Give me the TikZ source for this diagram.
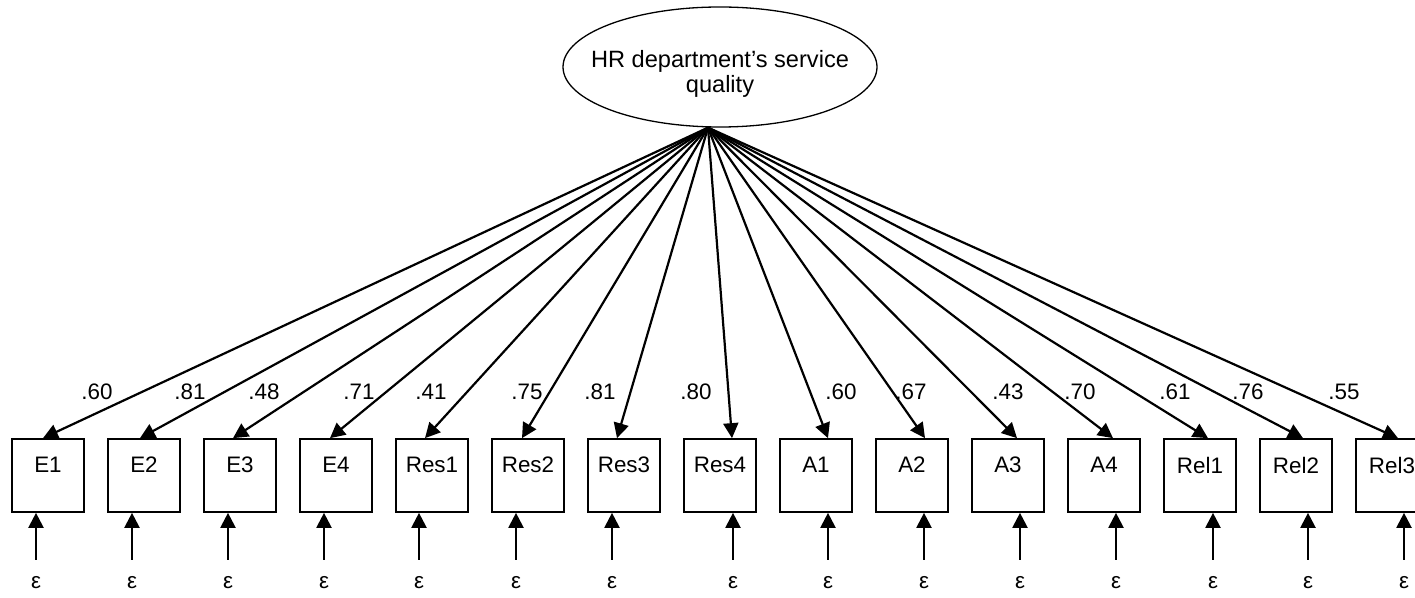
\documentclass[tikz,border=0pt]{standalone}
\usepackage{fontspec}
\setmainfont{Liberation Sans}
\usetikzlibrary{arrows.meta,shapes.geometric,calc}
\begin{document}
\begin{tikzpicture}[x=0.5pt,y=-0.5pt,
  latent/.style={draw,line width=0.65pt,ellipse,minimum width=157pt,minimum height=60pt,inner sep=0pt},
  lattext/.style={inner sep=0pt,align=center,font=\fontsize{11.8}{12.6}\selectfont},
  obs/.style={draw,line width=0.85pt,rectangle,minimum width=36pt,minimum height=36.5pt,inner sep=0pt},
  txt/.style={inner sep=0pt,font=\fontsize{11.2}{13}\selectfont},
  arr/.style={-{Triangle[length=7.5pt,width=7.5pt]},line width=1.1pt},
]
\clip (0,0) rectangle (1415,598);
\useasboundingbox (0,0) rectangle (1415,598);

% latent factor
\node[latent] (lat) at (720,67) {};
\node[lattext] (latT) at (720,74) {HR department’s service\\quality};
\coordinate (hub) at ($(lat.south)+(-12,0)$);

% indicators, loadings and error terms
\foreach \i/\nm/\lv/\tipdx/\lx/\edx in {
  0/E1/.60/-5/97/-12,
  1/E2/.81/-4/190/-12,
  2/E3/.48/-7/264/-12,
  3/E4/.71/-6/359/-12,
  4/Res1/.41/-7/431/-13,
  5/Res2/.75/-6/527/-12,
  6/Res3/.81/-7/600/-12,
  7/Res4/.80/12/696/13,
  8/A1/.60/12/841/12,
  9/A2/.67/13/911/12,
  10/A3/.43/9/1008/12,
  11/A4/.70/9/1080/12,
  12/Rel1/.61/8/1175/13,
  13/Rel2/.76/7/1248/12,
  14/Rel3/.55/6/1344/12} {
  \pgfmathsetmacro\cx{48+96*\i}
  \node[obs] (b\i) at (\cx,475.5) {};
  \node[txt] (t\i) at (\cx,465) {\nm};
  \node[txt] (l\i) at (\lx,392) {\lv};
  \draw[arr] (hub) -- ($(b\i.north)+(\tipdx,0)$);
  \coordinate (s\i) at ($(\cx,560)+(\edx,0)$);
  \node[txt] (eps\i) at ($(\cx,583)+(\edx,0)$) {ε};
  \draw[arr] (s\i) -- ($(b\i.south)+(\edx,0)$);
}
\end{tikzpicture}
\end{document}
